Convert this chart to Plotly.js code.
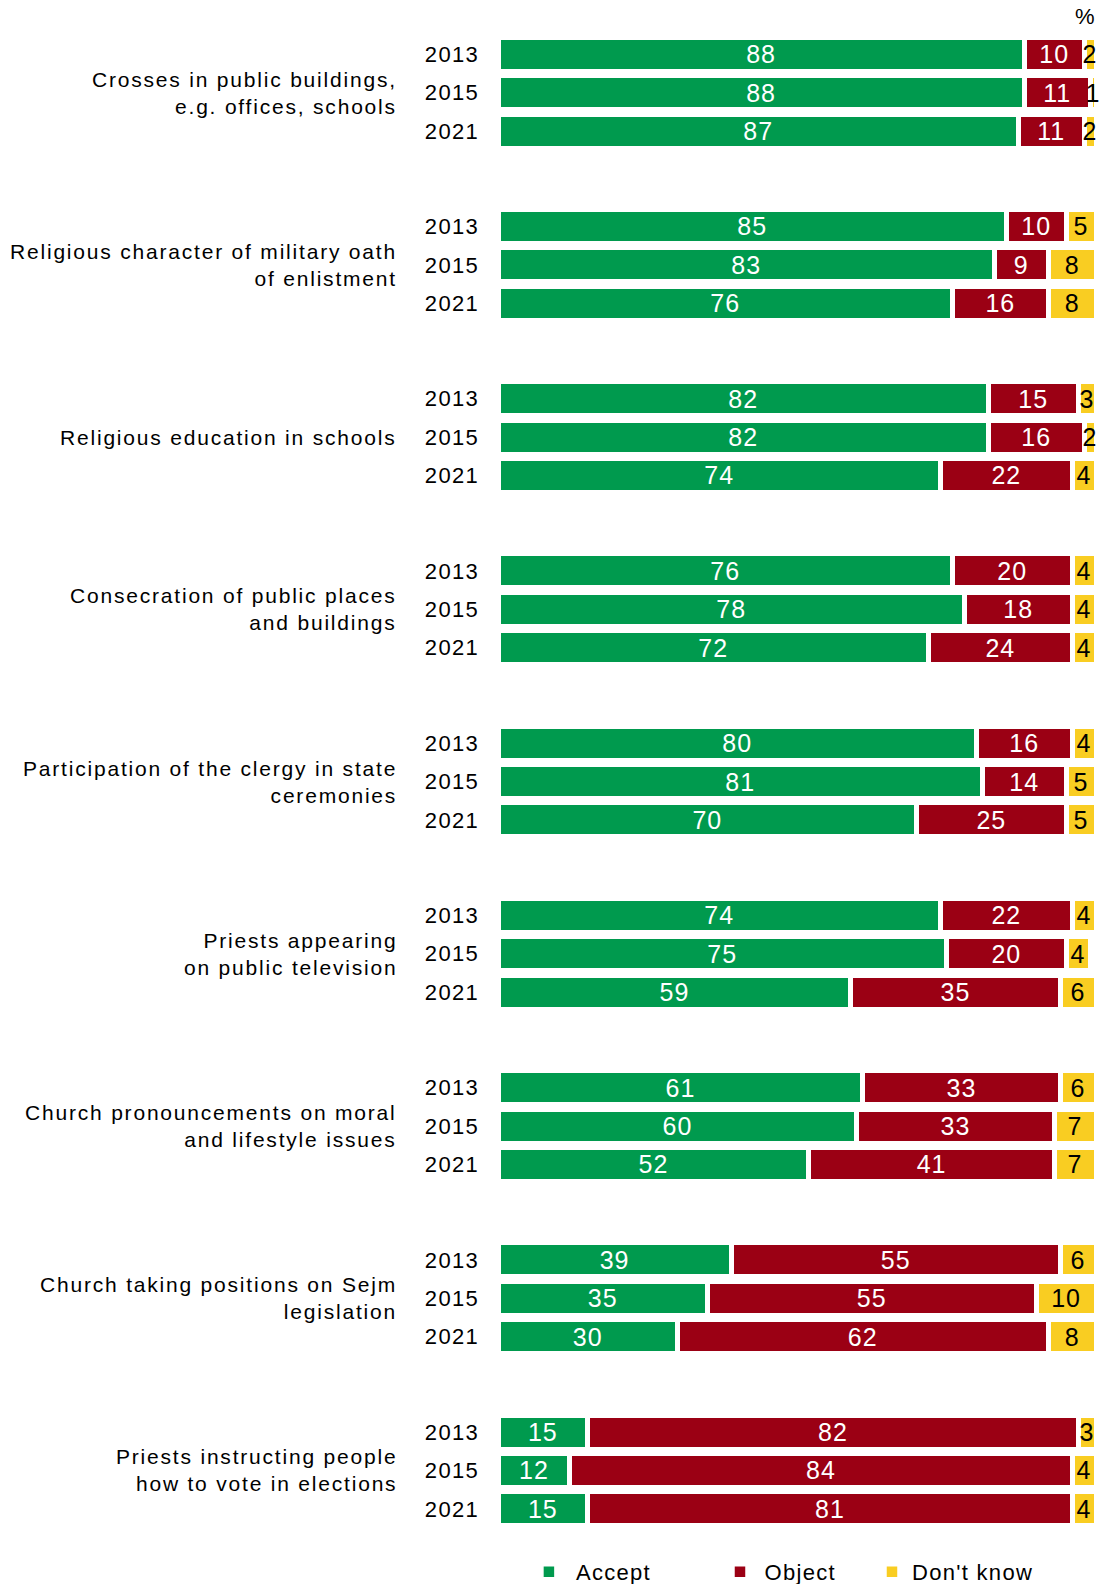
<!DOCTYPE html>
<html>
<head>
<meta charset="utf-8">
<script src="https://cdn.plot.ly/plotly-3.0.1.min.js"></script>
<style>
  html, body { margin: 0; padding: 0; background: #fff; }
  text { letter-spacing: 1.3px; }
  text.annotation-text { letter-spacing: 1.8px; }
  text.bartext { letter-spacing: 1px; }
  g.legendpoints path { stroke-width: 1.5px !important; }
</style>
</head>
<body>
<div id="chart"></div>
<script>
const years = ['2013', '2015', '2021'];
const groupLabels = [
  'Crosses in public buildings,<br>e.g. offices, schools',
  'Religious character of military oath<br>of enlistment',
  'Religious education in schools',
  'Consecration of public places<br>and buildings',
  'Participation of the clergy in state<br>ceremonies',
  'Priests appearing<br>on public television',
  'Church pronouncements on moral<br>and lifestyle issues',
  'Church taking positions on Sejm<br>legislation',
  'Priests instructing people<br>how to vote in elections'
];
const accept = [[88,88,87],[85,83,76],[82,82,74],[76,78,72],[80,81,70],[74,75,59],[61,60,52],[39,35,30],[15,12,15]];
const object = [[10,11,11],[10,9,16],[15,16,22],[20,18,24],[16,14,25],[22,20,35],[33,33,41],[55,55,62],[82,84,81]];
const dontKnow = [[2,1,2],[5,8,8],[3,2,4],[4,4,4],[4,5,5],[4,4,6],[6,7,7],[6,10,8],[3,4,4]];
const seriesNames = ['Accept', 'Object', "Don't know"];

const FONT = '"Liberation Sans", Arial, sans-serif';
const colors = ['#009A4E', '#9B0014', '#F9CD22'];
const textColors = ['#ffffff', '#ffffff', '#000000'];
const groupPitch = 4.484;

const pos = [];
const tickText = [];
groupLabels.forEach((g, gi) => {
  years.forEach((yr, j) => {
    pos.push(gi * groupPitch + j);
    tickText.push(yr);
  });
});

const seriesData = [accept, object, dontKnow];
const legendIds = ['legend', 'legend2', 'legend3'];
const traces = seriesData.map((s, si) => {
  const vals = s.flat();
  return {
    type: 'bar',
    orientation: 'h',
    name: seriesNames[si],
    x: vals,
    y: pos,
    width: 0.885,
    text: vals.map(String),
    textposition: 'inside',
    insidetextanchor: 'middle',
    textangle: 0,
    constraintext: 'none',
    cliponaxis: false,
    insidetextfont: { family: FONT, size: 25, color: textColors[si] },
    marker: { color: colors[si], line: { color: '#ffffff', width: 5 } },
    legend: legendIds[si],
    hoverinfo: 'skip'
  };
});

const annotations = groupLabels.map((g, gi) => ({
  text: g,
  xref: 'paper', yref: 'y',
  x: -0.166, y: gi * groupPitch + 1,
  xanchor: 'right', yanchor: 'middle', align: 'right',
  showarrow: false,
  font: { family: FONT, size: 21, color: '#000' }
}));
annotations.push({
  text: '%', xref: 'paper', yref: 'paper', x: 1.003, y: 1.0125,
  xanchor: 'right', yanchor: 'middle', showarrow: false,
  font: { family: FONT, size: 22, color: '#000' }
});

const legendBase = {
  orientation: 'h', yref: 'container', yanchor: 'middle', y: 0.0076, xanchor: 'left',
  font: { family: FONT, size: 22, color: '#000' },
  bgcolor: 'rgba(0,0,0,0)', borderwidth: 0
};

const layout = {
  width: 1104, height: 1584,
  margin: { l: 498, r: 8, t: 35, b: 51, pad: 0 },
  barmode: 'stack',
  paper_bgcolor: '#fff', plot_bgcolor: '#fff',
  font: { family: FONT, size: 22, color: '#000' },
  showlegend: true,
  uniformtext: { mode: 'show', minsize: 25 },
  xaxis: { range: [0, 100], visible: false, fixedrange: true },
  yaxis: {
    range: [38.5, -0.5], tickvals: pos, ticktext: tickText,
    showgrid: false, zeroline: false, showline: false, ticks: '',
    ticklabelstandoff: 18, tickfont: { family: FONT, size: 22, color: '#000' },
    fixedrange: true
  },
  annotations: annotations,
  legend: Object.assign({}, legendBase, { x: 0.040, itemwidth: 44 }),
  legend2: Object.assign({}, legendBase, { x: 0.3637, itemwidth: 39 }),
  legend3: Object.assign({}, legendBase, { x: 0.6254, itemwidth: 30 })
};

Plotly.newPlot('chart', traces, layout, { displayModeBar: false, staticPlot: true });
</script>
</body>
</html>
